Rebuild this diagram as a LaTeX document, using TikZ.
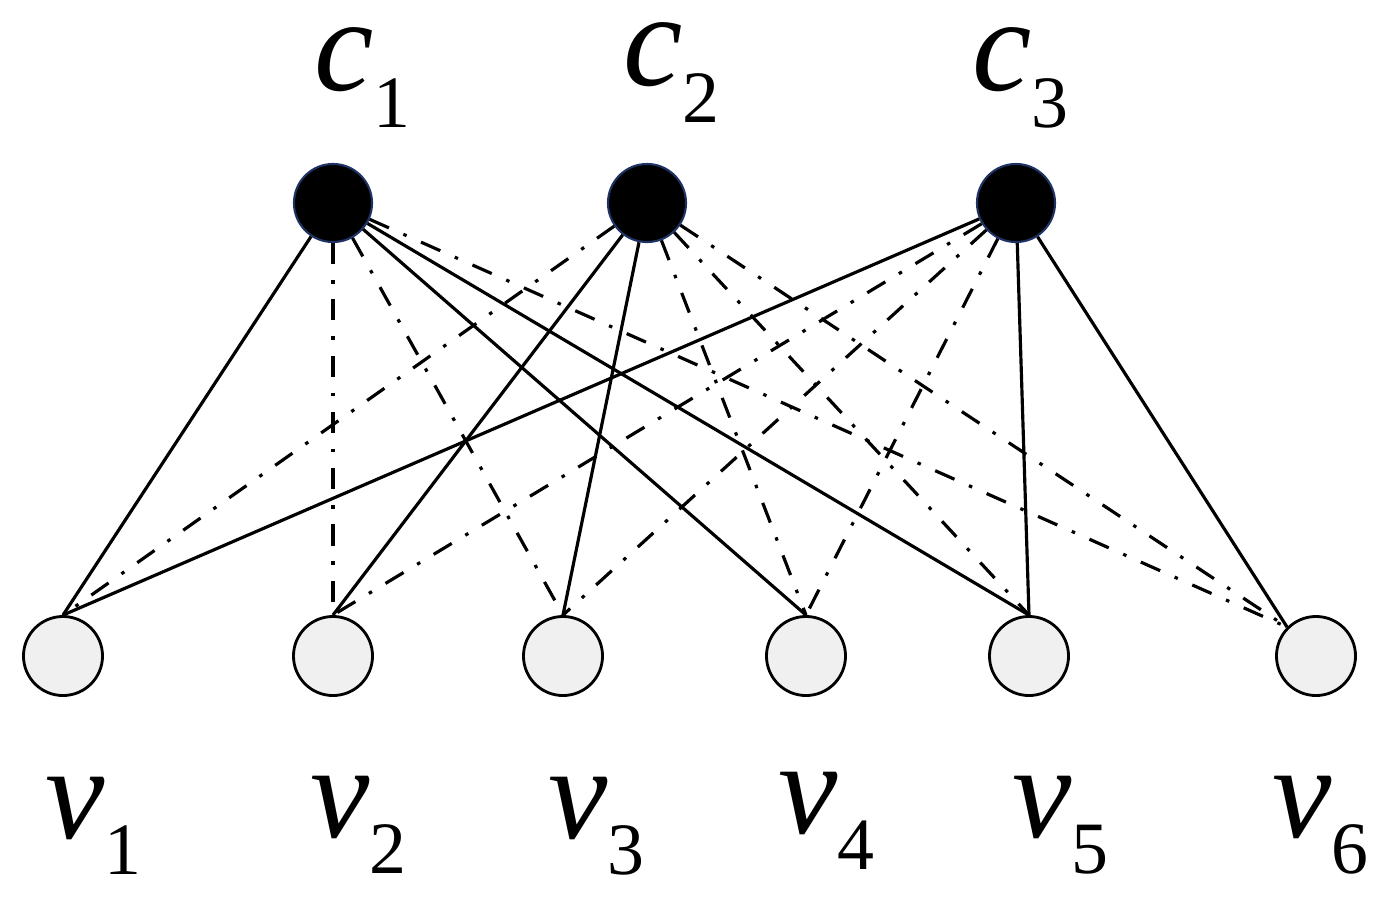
\documentclass[tikz,border=0pt]{standalone}
\usepackage{fontspec}
\setmainfont{Liberation Serif}
\usetikzlibrary{positioning}
\newcommand{\subidx}[2]{\raisebox{#1}{\fontsize{21}{21}\selectfont\upshape #2}}

\begin{document}
\begin{tikzpicture}[x=0.01cm,y=-0.01cm,line width=0.9pt,
  chk/.style={circle,draw={rgb,255:red,30;green,50;blue,100},line width=0.6pt,fill=black,minimum size=0.78cm,inner sep=0pt},
  var/.style={circle,draw=black,line width=0.8pt,fill={rgb,255:red,240;green,240;blue,240},minimum size=0.79cm,inner sep=0pt},
  lbl/.style={anchor=base west,inner sep=0pt,font=\fontsize{38}{38}\selectfont\itshape},
  dd/.style={dash pattern=on 6pt off 4.5pt on 1pt off 4.5pt}]
  \useasboundingbox (0,0) rectangle (1384,905);
  % ---------- check nodes (top row)
  \foreach \x/\lx/\ly [count=\i] in {333/313/90,647/622/85,1016/971/90} {
    \node[chk] (c\i) at (\x,203) {};
    \node[lbl] (lc\i) at (\lx,\ly) {c\subidx{-10.8pt}{\i}};
  }
  % ---------- variable nodes (bottom row)
  \foreach \x/\lx/\ly [count=\i] in {63/44/838,333/309/837,563/547/838,806/777/833,1029/1011/837,1316/1271/837} {
    \node[var] (v\i) at (\x,656) {};
    \node[lbl] (lv\i) at (\lx,\ly) {v\subidx{-10.3pt}{\i}};
  }
  % ---------- edges
  \foreach \a/\b/\e in {c1/v1/north,c1/v4/north,c1/v5/north,c2/v2/north,c2/v3/north,c3/v1/north,c3/v5/north,c3/v6/north west}
    \draw (\a) -- (\b.\e);
  \foreach \a/\b/\e in {c1/v2/north,c1/v3/north,c1/v6/north west,c2/v1/north,c2/v4/north,c2/v5/north,c2/v6/north west,c3/v2/north,c3/v3/north,c3/v4/north}
    \draw[dd] (\a) -- (\b.\e);
\end{tikzpicture}
\end{document}
